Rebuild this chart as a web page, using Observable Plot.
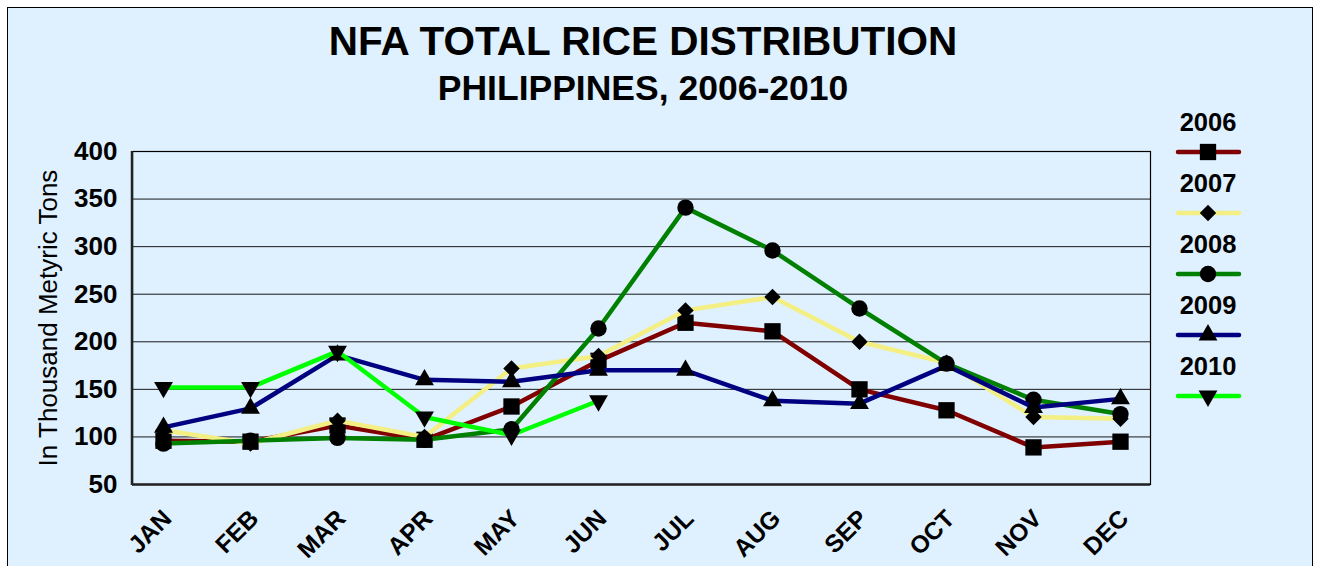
<!DOCTYPE html>
<html><head><meta charset="utf-8">
<script src="https://cdn.jsdelivr.net/npm/d3@7"></script>
<script src="https://cdn.jsdelivr.net/npm/@observablehq/plot@0.6"></script>
<style>
html,body{margin:0;padding:0;background:#fff;overflow:hidden;}
#wrap{position:relative;width:1319px;height:566px;overflow:hidden;font-family:"Liberation Sans",Arial,sans-serif;}
#panel{position:absolute;left:7px;top:7px;width:1304px;height:620px;background:#dff0fe;border:1.5px solid #000;}
.t{position:absolute;left:0;width:1286px;text-align:center;font-weight:bold;color:#000;white-space:nowrap;}
#title{top:21px;font-size:40.5px;line-height:40px;}
#subtitle{top:71px;font-size:35.5px;line-height:35px;}
#ylabel{position:absolute;left:-152px;top:305px;width:400px;text-align:center;font-size:26px;line-height:26px;transform:rotate(-90deg);transform-origin:200px 13px;white-space:nowrap;}
#chart{position:absolute;left:0;top:0;}
#legend{position:absolute;left:0;top:0;}
</style></head>
<body>
<div id="wrap">
  <div id="panel"></div>
  <div id="chart"></div>
  <div class="t" id="title">NFA TOTAL RICE DISTRIBUTION</div>
  <div class="t" id="subtitle">PHILIPPINES, 2006-2010</div>
  <div id="ylabel">In Thousand Metyric Tons</div>
  <div id="legend"></div>
</div>
<script>
const months = ["JAN","FEB","MAR","APR","MAY","JUN","JUL","AUG","SEP","OCT","NOV","DEC"];
const years = ["2006","2007","2008","2009","2010"];
const yTicks = [50,100,150,200,250,300,350,400];
const v2006 = [96, 95, 112, 97, 132, 180, 220, 211, 150, 128, 89, 95];
const v2007 = [107, 93, 117, 100, 172, 185, 233, 247, 200, 178, 121, 119];
const v2008 = [93, 96, 99, 97, 108, 214, 341, 296, 235, 177, 139, 124];
const v2009 = [110, 130, 186, 160, 158, 170, 170, 138, 135, 175, 131, 140];
const v2010 = [152, 152, 190, 121, 102, 138];
const seriesValues = [v2006, v2007, v2008, v2009, v2010];

const colors = ["#800000", "#f4ef82", "#008000", "#000080", "#00ff00"];
const symbols = ["square", "diamond2", "circle", "triangle", "triangle"];
const radii = [9.2, 7.4, 8.2, 7, 7];
const rotations = [0, 0, 0, 0, 180];

const rows = years.flatMap((yr, i) =>
  seriesValues[i].map((v, j) => ({year: yr, month: months[j], value: v}))
);

const marks = [
  Plot.gridY(yTicks, {stroke: "#000", strokeOpacity: 0.9, strokeWidth: 1}),
  Plot.frame({stroke: "#000", strokeWidth: 1.2}),
  Plot.ruleY([50], {stroke: "#222", strokeWidth: 2.5}),
  Plot.axisY(yTicks, {tickSize: 0, tickPadding: 15, fontSize: 26, fontWeight: "bold", label: null}),
  Plot.text(months, {x: d => d, frameAnchor: "bottom", dy: 30, dx: 4, rotate: -45, textAnchor: "end", lineAnchor: "middle", fontSize: 24.5, fontWeight: "bold", fill: "#000"})
];
years.forEach((yr, i) => {
  const data = rows.filter(d => d.year === yr);
  marks.push(Plot.line(data, {x: "month", y: "value", stroke: "year", strokeWidth: 4.5}));
  marks.push(Plot.dot(data, {x: "month", y: "value", symbol: () => symbols[i], r: radii[i], rotate: rotations[i], fill: "#000", stroke: "none"}));
});

const chart = Plot.plot({
  width: 1319,
  height: 566,
  marginLeft: 132,
  marginRight: 169,
  marginTop: 151,
  marginBottom: 82,
  style: {background: "transparent", fontFamily: "Liberation Sans, Arial, sans-serif", color: "#000", overflow: "visible"},
  x: {type: "point", domain: months, padding: 0.32, axis: null},
  y: {domain: [50, 400], axis: null},
  color: {domain: years, range: colors},
  symbol: {type: "identity"},
  marks
});
document.getElementById("chart").appendChild(chart);

// Legend
const lg = d3.select("#legend").append("svg").attr("width", 1319).attr("height", 566);
const symTypes = {square: d3.symbolSquare, diamond2: d3.symbolDiamond2, circle: d3.symbolCircle, triangle: d3.symbolTriangle};
years.forEach((yr, i) => {
  const ly = 152 + 61 * i;
  lg.append("text").attr("x", 1208).attr("y", ly - 21).attr("text-anchor", "middle")
    .attr("font-family", "Liberation Sans, Arial, sans-serif").attr("font-weight", "bold").attr("font-size", 25.5).text(yr);
  lg.append("line").attr("x1", 1178).attr("x2", 1239).attr("y1", ly).attr("y2", ly)
    .attr("stroke", colors[i]).attr("stroke-width", 4.5).attr("stroke-linecap", "round");
  lg.append("path").attr("d", d3.symbol(symTypes[symbols[i]], Math.PI * radii[i] * radii[i])())
    .attr("transform", `translate(1208,${ly}) rotate(${rotations[i]})`).attr("fill", "#000");
});
// left axis line
lg.append("line").attr("x1", 132).attr("x2", 132).attr("y1", 151).attr("y2", 485).attr("stroke", "#222").attr("stroke-width", 2.5);
</script>
</body></html>
